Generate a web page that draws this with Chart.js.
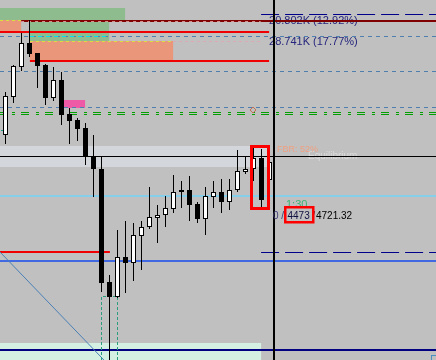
<!DOCTYPE html>
<html>
<head>
<meta charset="utf-8">
<script src="https://cdn.jsdelivr.net/npm/chart.js@4.4.1/dist/chart.umd.min.js"></script>
<style>
  html, body { margin: 0; padding: 0; background: #c0c0c0; }
  #wrap { width: 436px; height: 360px; position: relative; }
</style>
</head>
<body>
<div id="wrap"><canvas id="chart"></canvas></div>
<script>
// --- price data ---
const opens  = [4765,4803,4833,4857,4847,4835,4802,4820,4786,4780,4772,4743,4731,4618,4603,4643,4637,4664,4673,4682,4685,4691,4710,4710,4696,4681,4703,4708,4698,4710,4728,4731,4742,4720];
const highs  = [4808,4835,4867,4880,4847,4836,4833,4828,4792,4782,4777,4765,4743,4625,4670,4679,4677,4679,4713,4695,4704,4725,4719,4724,4698,4713,4719,4721,4721,4750,4743,4752,4751,4742];
const lows   = [4756,4797,4829,4843,4812,4795,4799,4775,4756,4759,4735,4703,4608,4540,4602,4607,4619,4630,4671,4657,4673,4687,4692,4679,4677,4665,4692,4687,4690,4708,4726,4719,4692,4720];
const closes = [4804,4834,4857,4846,4834,4802,4820,4785,4779,4771,4744,4731,4617,4603,4643,4637,4665,4673,4683,4685,4692,4708,4708,4695,4681,4704,4708,4698,4710,4729,4731,4742,4700,4738];

// visible range (bar index / price)
const X_MIN = -0.6875, X_MAX = 53.8125;
const P_MIN = 4540, P_MAX = 4900;

// zones: [fromBar, toBar, topPrice, bottomPrice]
const greenZones  = [[X_MIN, 14.95, 4892, 4880], [3.05, 12.95, 4880, 4859]];
const supplyZones = [[X_MIN, 1.95, 4880, 4868], [3.05, 20.95, 4859, 4839]];
const pinkZone    = [7.2, 9.95, 4800, 4792];
const eqZone      = [X_MIN, 33.05, 4754, 4733];
const mintZone    = [X_MIN, 31.95, 4557, 4540];

// levels
const redLevels      = [[4868, X_MIN, 32.95], [4839, 3.05, 32.95], [4648, X_MIN, 13.05]];
const dottedLevels   = [4864, 4829, 4793];
const navyDashLevels = [4886, 4648];
const greenDashLevels = [4788, 4786];
const darkRedLevel = 4879;
const eqLevel = 4744, skyLevel = 4704, blueLevel = 4639, navyLevel = 4550;
const cursorBar = 33.56;

// texts
const targetLabels = [['20.802K (12.92%)', 32.94, 4876.5], ['28.741K (17.77%)', 32.94, 4855]];

const bodyData = opens.map((o, i) => ({ x: i, y: [o, closes[i]] }));
const wickData = highs.map((h, i) => ({ x: i, y: [lows[i], h] }));
const bodyColors = opens.map((o, i) => closes[i] >= o ? '#ffffff' : '#000000');

const drawings = {
  id: 'drawings',
  beforeDatasetsDraw(chart) {
    const { ctx, scales: { x, y } } = chart;
    const X = v => x.getPixelForValue(v), Y = v => y.getPixelForValue(v);
    const zone = (z, color) => {
      ctx.fillStyle = color;
      ctx.fillRect(X(z[0]), Y(z[2]), X(z[1]) - X(z[0]), Y(z[3]) - Y(z[2]));
    };
    const hline = (p, x0, x1, color, w, dash, off) => {
      let yy = Math.round(Y(p));
      if (w % 2 === 1) yy += 0.5;
      ctx.save();
      ctx.strokeStyle = color; ctx.lineWidth = w;
      ctx.setLineDash(dash || []); ctx.lineDashOffset = off || 0;
      ctx.beginPath(); ctx.moveTo(X(x0), yy); ctx.lineTo(X(x1), yy); ctx.stroke();
      ctx.restore();
    };

    greenZones.forEach(z => zone(z, '#8fbc8f'));
    supplyZones.forEach(z => zone(z, '#e9967a'));
    zone(pinkZone, '#ee5aa5');
    zone(eqZone, '#d3d7db');
    zone(mintZone, '#d4f0e2');

    // labels that sit under the lines
    ctx.font = '11px "Liberation Sans", Arial, sans-serif';
    ctx.fillStyle = '#25257d';
    ctx.textBaseline = 'alphabetic';
    targetLabels.forEach(([t, b, p]) => ctx.fillText(t, X(b), Y(p)));
    ctx.font = '10px "Liberation Sans", Arial, sans-serif';
    ctx.fillStyle = '#dadada';
    ctx.fillText('Equilibrium', X(37.81), Y(4741));

    dottedLevels.forEach(p => hline(p, X_MIN, X_MAX, '#4f7fae', 1, [4, 4]));
    hline(4864, 3.05, 12.95, '#00e5ee', 1, [4, 4]);
    hline(4859, 3.05, 20.95, '#d8e040', 1, [3, 3]);
    hline(4859, 20.95, 31.9, '#dcaab4', 1, [3, 3]);
    hline(4880, X_MIN, 1.95, '#d8e040', 1, [3, 3]);
    hline(darkRedLevel, 1.95, X_MAX, '#800000', 2);
    hline(darkRedLevel, 1.95, 31.9, '#d89090', 1, [3, 4]);
    redLevels.forEach(([p, a, b]) => hline(p, a, b, '#f00000', 2));
    greenDashLevels.forEach(p => hline(p, X_MIN, X_MAX, '#00a000', 1, [8, 7, 3, 6], 3));
    navyDashLevels.forEach(p => hline(p, 31.95, X_MAX, '#00008b', 1, [18, 6]));
    hline(eqLevel, X_MIN, X_MAX, '#000000', 1);
    hline(skyLevel, X_MIN, X_MAX, '#87ceeb', 2);
    hline(blueLevel, X_MIN, X_MAX, '#4169e1', 2);
    hline(navyLevel, X_MIN, X_MAX, '#000080', 2);

    // trend line
    ctx.save();
    ctx.strokeStyle = '#4a7fb5'; ctx.lineWidth = 1;
    ctx.beginPath(); ctx.moveTo(X(X_MIN), Y(4648)); ctx.lineTo(X(12.3), Y(4540)); ctx.stroke();
    // measuring box under the low
    ctx.strokeStyle = '#2a9d7f'; ctx.setLineDash([3, 2]);
    ctx.beginPath();
    ctx.moveTo(X(12), Y(P_MIN)); ctx.lineTo(X(12), Y(4604) + 0.5);
    ctx.lineTo(X(14), Y(4604) + 0.5); ctx.lineTo(X(14), Y(P_MIN));
    ctx.stroke();
    ctx.restore();

    // small marker
    ctx.save();
    ctx.strokeStyle = '#c07050'; ctx.lineWidth = 1;
    const mx = X(30.94), my = Y(4790);
    ctx.beginPath();
    ctx.moveTo(mx, my - 3); ctx.lineTo(mx + 3, my); ctx.lineTo(mx, my + 3); ctx.lineTo(mx - 3, my); ctx.closePath();
    ctx.stroke();
    ctx.fillStyle = '#20a090'; ctx.fillRect(X(X_MIN) + 1, Y(4770), 2, 1);
    ctx.restore();
  },
  afterDatasetsDraw(chart) {
    const { ctx, scales: { x, y } } = chart;
    const X = v => x.getPixelForValue(v), Y = v => y.getPixelForValue(v);
    ctx.save();
    // cursor
    ctx.fillStyle = '#000000';
    ctx.fillRect(Math.round(X(cursorBar)) - 1, 0, 2, chart.height);

    ctx.textBaseline = 'alphabetic';
    ctx.font = '9px "Liberation Sans", Arial, sans-serif';
    ctx.fillStyle = '#f0a080';
    ctx.fillText('FBR: 52%', X(33.94), Y(4748.5));
    ctx.font = '11px "Liberation Sans", Arial, sans-serif';
    ctx.fillStyle = '#3cb371';
    ctx.fillText('1:30', X(35.06), Y(4692.5));
    ctx.font = '10px "Liberation Sans", Arial, sans-serif';
    ctx.fillStyle = '#3c3c78';
    ctx.fillText('0 /', X(33.44), Y(4681.5));
    ctx.fillStyle = '#101040';
    ctx.fillText('4473', X(35.25), Y(4681.5));
    ctx.fillText('/', X(38.35), Y(4681.5));
    ctx.fillStyle = '#000000';
    ctx.fillText('4721.32', X(38.81), Y(4681.5));

    // highlight boxes
    ctx.strokeStyle = '#ff0000';
    ctx.lineWidth = 3;
    ctx.strokeRect(X(30.75), Y(4753.5), X(32.875) - X(30.75), Y(4691.5) - Y(4753.5));
    ctx.lineWidth = 2.5;
    ctx.strokeRect(X(34.97), Y(4692.75), X(38.47) - X(34.97), Y(4677.75) - Y(4692.75));

    ctx.strokeStyle = '#4a90c0'; ctx.lineWidth = 1;
    ctx.strokeRect(431.5, 355.5, 6, 6);
    ctx.restore();
  }
};

new Chart(document.getElementById('chart'), {
  type: 'bar',
  data: {
    datasets: [
      {
        label: 'bodies',
        data: bodyData,
        backgroundColor: bodyColors,
        borderColor: '#000000',
        borderWidth: 1,
        borderSkipped: false,
        barThickness: 5,
        inflateAmount: 0,
        grouped: false,
        order: 0
      },
      {
        label: 'wicks',
        data: wickData,
        backgroundColor: '#000000',
        borderWidth: 0,
        barThickness: 1,
        inflateAmount: 0,
        grouped: false,
        order: 1
      }
    ]
  },
  options: {
    responsive: true,
    maintainAspectRatio: false,
    animation: false,
    layout: { padding: 0 },
    plugins: { legend: { display: false }, tooltip: { enabled: false } },
    scales: {
      x: { type: 'linear', min: X_MIN, max: X_MAX, offset: false, display: false },
      y: { type: 'linear', min: P_MIN, max: P_MAX, display: false }
    }
  },
  plugins: [drawings]
});
</script>
</body>
</html>
